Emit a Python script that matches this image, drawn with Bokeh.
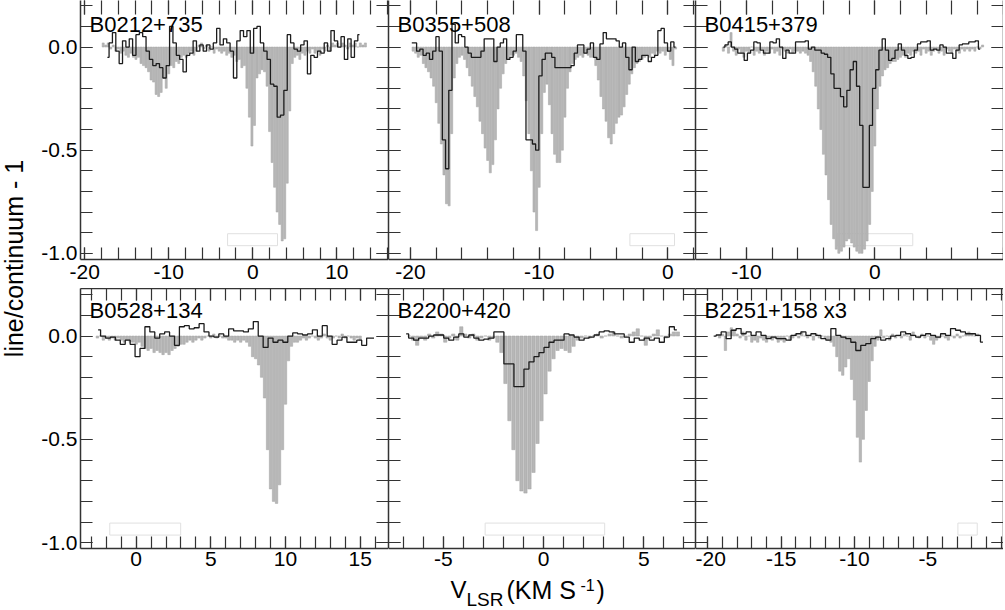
import numpy as np
from bokeh.plotting import figure
from bokeh.models import Range1d, FixedTicker, LinearAxis, Label, CustomJSTickFormatter
from bokeh.layouts import row, column
from bokeh.embed import file_html
from bokeh.resources import INLINE

FONT = "Liberation Sans"
AX = "#333333"

# ---------------- data ----------------
names = ["B0212+735", "B0355+508", "B0415+379", "B0528+134", "B2200+420", "B2251+158 x3"]

# gray histogram (fine channels): start velocity, channel width, values
p1_gray_v0, p1_gray_dv = -17.8, 0.3
p1_gray = [0.02, 0.01, 0.02, -0.01, 0.01, -0.02, -0.01, -0.03, -0.02, -0.04,
           -0.05, -0.03, -0.05, -0.06, -0.05, -0.08, -0.09, -0.10, -0.12, -0.16,
           -0.17, -0.23, -0.24, -0.22, -0.15, -0.20, -0.13, -0.09, -0.10, -0.07,
           -0.08, -0.05, -0.04, -0.05, -0.03, -0.02, -0.04, -0.02, 0.01, 0.02,
           -0.01, 0.01, -0.02, 0.00, -0.03, -0.01, -0.02, -0.03, -0.02, -0.04,
           -0.03, -0.05, -0.04, -0.07, -0.06, -0.10, -0.09, -0.20, -0.34, -0.48,
           -0.38, -0.15, -0.13, -0.11, -0.12, -0.19, -0.41, -0.56, -0.68, -0.80,
           -0.86, -0.94, -0.93, -0.66, -0.31, -0.08, -0.05, -0.04, -0.06, -0.03,
           -0.04, -0.02, -0.03, -0.01, -0.03, -0.02, -0.04, -0.01, -0.02, 0.01,
           -0.02, 0.02, 0.01, 0.02, 0.00, 0.02, 0.01, -0.01, 0.02, 0.01,
           0.02, 0.00, 0.02, 0.01, 0.02]
p1_line_v0, p1_line_dv = -17.3, 0.4
p1_line = [-0.05, 0.02, 0.07, -0.02, -0.08, 0.03, 0.00, 0.04, -0.04, 0.06,
           0.07, 0.05, -0.02, -0.06, -0.09, -0.08, -0.10, -0.15, -0.09, 0.10,
           0.02, -0.04, -0.06, -0.12, -0.04, -0.03, 0.03, -0.02, 0.01, -0.02,
           0.01, -0.01, 0.02, 0.09, 0.01, 0.04, 0.02, -0.02, -0.15, 0.03,
           0.08, 0.05, 0.08, -0.03, 0.09, 0.10, 0.02, -0.02, -0.06, -0.18,
           -0.19, -0.34, -0.33, -0.21, 0.06, 0.02, -0.01, -0.02, 0.01, 0.03,
           -0.13, -0.04, -0.05, -0.02, -0.03, 0.02, -0.02, 0.08, 0.03, 0.00,
           0.05, -0.06, 0.04, -0.05, 0.03, 0.06]

p2_gray_v0, p2_gray_dv = -19.8, 0.2
p2_gray = [-0.02, -0.03, -0.05, -0.04, -0.08, -0.10, -0.12, -0.15, -0.19, -0.27,
           -0.37, -0.47, -0.62, -0.76, -0.77, -0.42, -0.15, -0.08, -0.05, -0.04,
           -0.06, -0.10, -0.14, -0.19, -0.24, -0.29, -0.36, -0.42, -0.49, -0.55,
           -0.61, -0.57, -0.45, -0.30, -0.20, -0.13, -0.08, -0.06, -0.04, -0.04,
           -0.03, -0.05, -0.07, -0.14, -0.26, -0.42, -0.60, -0.80, -0.89, -0.68,
           -0.42, -0.22, -0.18, -0.28, -0.42, -0.52, -0.56, -0.56, -0.50, -0.34,
           -0.20, -0.12, -0.08, -0.06, -0.05, -0.04, -0.05, -0.03, -0.04, -0.05,
           -0.05, -0.09, -0.16, -0.24, -0.30, -0.36, -0.44, -0.47, -0.42, -0.37,
           -0.34, -0.33, -0.29, -0.23, -0.18, -0.13, -0.10, -0.08, -0.07, -0.06,
           -0.05, -0.04, -0.05, -0.03, -0.04, -0.02, -0.03, -0.02, -0.04, -0.02,
           -0.06, -0.09, -0.01]
p2_line_v0, p2_line_dv = -19.9, 0.25
p2_line = [0.02, 0.02, -0.02, -0.01, -0.04, -0.03, -0.06, -0.02, 0.05, -0.02,
           -0.45, -0.59, -0.21, 0.11, 0.02, 0.06, 0.05, 0.00, -0.03, -0.05,
           -0.05, -0.05, -0.02, 0.04, 0.04, 0.04, -0.07, 0.00, 0.02, 0.04,
           -0.06, -0.05, -0.02, 0.06, 0.06, -0.02, -0.45, -0.45, -0.47, -0.50,
           -0.14, -0.06, -0.03, -0.03, -0.05, -0.10, -0.10, -0.10, -0.10, -0.10,
           -0.09, -0.03, 0.01, 0.01, -0.03, -0.01, 0.02, -0.05, -0.06, 0.015,
           0.07, 0.04, 0.04, 0.04, 0.03, 0.00, 0.02, -0.05, -0.11, 0.00,
           -0.07, -0.06, -0.04, -0.04, -0.07, -0.05, -0.04, 0.08, 0.09, 0.02,
           -0.02, 0.025, 0.00]

p3_gray_v0, p3_gray_dv = -11.8, 0.2
p3_gray = [-0.02, 0.01, -0.03, 0.07, -0.02, -0.04, -0.01, -0.03, -0.05, -0.02,
           -0.03, 0.00, -0.04, -0.02, -0.03, -0.01, -0.04, -0.02, -0.03, -0.01,
           -0.03, -0.02, -0.04, -0.01, -0.02, -0.03, -0.01, -0.03, -0.02, -0.02,
           -0.03, -0.02, -0.03, -0.04, -0.07, -0.12, -0.19, -0.30, -0.40, -0.52,
           -0.62, -0.74, -0.86, -0.93, -0.98, -1.00, -0.99, -0.97, -0.94, -0.93,
           -0.95, -0.97, -0.99, -1.00, -1.00, -0.98, -0.94, -0.86, -0.70, -0.48,
           -0.30, -0.19, -0.14, -0.11, -0.10, -0.08, -0.07, -0.07, -0.06, -0.05,
           -0.04, -0.05, -0.03, -0.04, -0.02, -0.03, -0.02, -0.04, -0.01, -0.03,
           -0.02, -0.04, -0.02, -0.01, -0.03, -0.02, -0.04, -0.01, -0.02, -0.03,
           -0.01, -0.02, -0.03, -0.01, -0.02, -0.01, -0.02, -0.01, -0.02, 0.00,
           -0.01, 0.01]
p3_line_v0, p3_line_dv = -11.8, 0.25
p3_line = [0.00, 0.01, 0.025, 0.00, -0.01, -0.03, -0.03, -0.065, -0.03, -0.015,
           0.025, 0.02, -0.015, -0.03, -0.03, 0.025, 0.02, 0.04, 0.00, -0.055,
           -0.015, -0.03, -0.03, 0.025, 0.025, 0.025, 0.03, -0.01, 0.00, -0.015,
           -0.015, -0.03, -0.035, -0.05, -0.13, -0.20, -0.20, -0.24, -0.29, -0.21,
           -0.11, -0.07, -0.19, -0.38, -0.68, -0.68, -0.38, -0.20, -0.11, -0.015,
           0.04, -0.015, -0.065, -0.055, -0.015, 0.015, -0.015, -0.04, -0.055, -0.05,
           -0.015, 0.015, 0.025, 0.025, 0.03, -0.015, -0.01, -0.015, 0.01, 0.00,
           -0.03, -0.03, -0.055, -0.015, 0.01, 0.015, 0.015, 0.025, 0.025, 0.03,
           -0.01]

p4_gray_v0, p4_gray_dv = -2.6, 0.2
p4_gray = [-0.01, 0.00, -0.02, -0.01, -0.02, -0.01, -0.02, -0.01, -0.02, -0.03,
           -0.02, -0.03, -0.03, -0.04, -0.03, -0.05, -0.06, -0.07, -0.06, -0.08,
           -0.07, -0.08, -0.09, -0.08, -0.09, -0.07, -0.06, -0.05, -0.04, -0.04,
           -0.03, -0.02, -0.03, -0.02, -0.01, -0.02, -0.01, 0.00, -0.01, 0.01,
           -0.01, 0.00, -0.01, -0.01, -0.02, -0.02, -0.03, -0.02, -0.03, -0.02,
           -0.03, -0.05, -0.10, -0.11, -0.14, -0.20, -0.30, -0.55, -0.74, -0.80,
           -0.81, -0.72, -0.55, -0.33, -0.12, -0.05, -0.03, -0.03, -0.02, -0.01,
           -0.02, -0.01, 0.00, -0.01, -0.02, -0.01, 0.01, -0.01, -0.02, -0.01,
           0.00, -0.01, 0.01, -0.01, 0.00, -0.01, -0.02, -0.01, -0.02]
p4_line_v0, p4_line_dv = -2.55, 0.33
p4_line = [0.03, 0.00, -0.01, -0.005, -0.02, -0.04, -0.02, -0.04, -0.10, -0.06,
           0.045, 0.02, -0.01, 0.01, 0.02, 0.00, -0.045, 0.045, 0.05, 0.035,
           0.04, 0.06, 0.02, 0.00, -0.005, 0.01, 0.00, 0.035, 0.025, 0.025,
           0.02, 0.035, 0.07, 0.00, -0.055, -0.01, -0.03, -0.02, -0.03, 0.00,
           0.015, 0.01, 0.005, 0.01, 0.03, 0.00, 0.05, 0.00, -0.04, -0.02,
           -0.005, -0.03, -0.03, -0.02, -0.045, -0.01, -0.01]

p5_gray_v0, p5_gray_dv = -6.7, 0.2
p5_gray = [0.00, -0.02, -0.045, -0.01, -0.02, 0.01, -0.01, 0.02, 0.01, -0.03,
           -0.01, 0.01, -0.02, 0.045, 0.01, -0.01, 0.01, -0.02, -0.01, 0.00,
           -0.02, -0.01, -0.03, -0.08, -0.23, -0.41, -0.55, -0.70, -0.75, -0.76,
           -0.74, -0.66, -0.52, -0.41, -0.28, -0.17, -0.11, -0.07, -0.06, -0.07,
           -0.08, -0.05, -0.02, -0.01, 0.00, -0.01, 0.00, 0.01, -0.01, 0.00,
           0.01, 0.02, 0.00, -0.01, 0.00, 0.01, 0.02, 0.035, 0.00, -0.045,
           -0.01, 0.01, 0.03, 0.00, -0.01, 0.01, 0.02, 0.02]
p5_line_v0, p5_line_dv = -6.85, 0.25
p5_line = [0.01, -0.01, -0.02, -0.01, -0.01, 0.00, 0.005, 0.005, -0.01, -0.02,
           -0.005, 0.01, -0.005, 0.005, -0.01, -0.02, -0.015, -0.01, 0.02, 0.02,
           -0.135, -0.135, -0.245, -0.245, -0.16, -0.125, -0.10, -0.08, -0.055, -0.03,
           -0.02, -0.02, 0.01, 0.005, -0.005, -0.02, -0.01, -0.005, 0.005, 0.02,
           0.025, 0.02, 0.01, 0.01, -0.005, -0.03, -0.01, -0.02, -0.01, -0.02,
           -0.01, -0.03, -0.005, 0.045, 0.03]

p6_gray_v0, p6_gray_dv = -19.2, 0.2
p6_gray = [-0.01, 0.01, -0.07, 0.02, 0.04, 0.03, 0.01, -0.01, 0.02, -0.02,
           0.00, -0.03, -0.02, -0.03, -0.01, -0.02, -0.03, -0.01, -0.02, -0.01,
           -0.03, -0.02, -0.03, 0.00, -0.02, -0.01, 0.01, -0.01, 0.02, 0.00,
           -0.01, 0.00, -0.02, 0.01, -0.01, 0.00, -0.01, -0.02, -0.03, -0.05,
           -0.10, -0.17, -0.19, -0.15, -0.11, -0.21, -0.31, -0.49, -0.61, -0.50,
           -0.36, -0.22, -0.12, -0.05, -0.02, 0.03, -0.01, 0.00, -0.02, 0.01,
           -0.01, 0.00, -0.01, 0.01, 0.00, -0.02, 0.02, 0.00, -0.01, 0.01,
           -0.01, 0.00, -0.02, -0.04, -0.02, -0.01, 0.00, -0.01, -0.02, 0.00,
           -0.01, 0.01, -0.01, 0.00, 0.01, 0.02, 0.01, 0.00, 0.01]
p6_line_v0, p6_line_dv = -19.6, 0.34
p6_line = [0.00, 0.005, 0.02, -0.013, 0.028, 0.036, 0.011, 0.02, 0.003, 0.02,
           0.003, -0.013, -0.005, -0.013, -0.013, -0.02, 0.003, 0.011, 0.02, 0.003,
           0.011, 0.003, -0.013, -0.02, 0.036, 0.003, -0.005, -0.013, -0.03, -0.07,
           -0.045, -0.037, -0.013, -0.005, -0.02, -0.013, 0.00, 0.003, 0.02, 0.011,
           0.003, -0.005, 0.003, 0.011, 0.003, -0.005, 0.011, 0.003, 0.036, 0.028,
           0.02, 0.011, 0.011, 0.003, -0.029]

# faint reference boxes near the bottom of each panel
box_left = [-3.0, -2.95, -2.93, -1.77, -2.91, -2.95]
box_right = [2.94, 0.52, 2.96, 2.98, 3.05, -1.63]
box_bottom, box_top = -0.963, -0.905

# tick labels per panel
x_label_ticks = [[-20, -10, 0, 10], [-20, -10, 0], [-10, 0],
                 [0, 5, 10, 15], [-5, 0, 5], [-20, -15, -10, -5]]
y_label_ticks = [-1.0, -0.5, 0.0]

# ---------------- layout / style ----------------
x_ranges = [(-20.5, 16.15), (-21.71, 2.15), (-13.97, 10.03),
            (-3.73, 16.9), (-7.73, 7.58), (-20.84, 0.16)]
minor_spec = [(-20, 16, 2), (-20, 2, 2), (-12, 10, 2),
              (-3, 16, 1), (-7, 7, 1), (-20, 0, 1)]
Y_TOP = (-1.03, 0.2256)
Y_BOT = (-1.028, 0.23)
TITLE_W = 28
fig_w = [360, 307, 308]
frame_w = [308, 307, 308]
left_border = [52, 0, 0]
row_h = [288, 287]
bottom_border = [29, 27]
x_standoff = [5, 3]
name_y = [0.109, 0.124]
TICK_FONT = "21px"

series = [
    (p1_gray_v0, p1_gray_dv, p1_gray, p1_line_v0, p1_line_dv, p1_line),
    (p2_gray_v0, p2_gray_dv, p2_gray, p2_line_v0, p2_line_dv, p2_line),
    (p3_gray_v0, p3_gray_dv, p3_gray, p3_line_v0, p3_line_dv, p3_line),
    (p4_gray_v0, p4_gray_dv, p4_gray, p4_line_v0, p4_line_dv, p4_line),
    (p5_gray_v0, p5_gray_dv, p5_gray, p5_line_v0, p5_line_dv, p5_line),
    (p6_gray_v0, p6_gray_dv, p6_gray, p6_line_v0, p6_line_dv, p6_line),
]


def style_axis(ax, ticker, labeled, fmt=None, tick_in=12, line=True, standoff=5):
    ax.ticker = ticker
    ax.axis_line_color = AX if line else None
    ax.axis_line_width = 1.5
    ax.major_tick_in = tick_in
    ax.major_tick_out = 0
    ax.minor_tick_in = tick_in
    ax.minor_tick_out = 0
    ax.major_tick_line_color = AX
    ax.minor_tick_line_color = AX
    ax.major_tick_line_width = 1.2
    ax.minor_tick_line_width = 1.2
    if labeled:
        ax.formatter = CustomJSTickFormatter(code=fmt)
        ax.major_label_text_font = FONT
        ax.major_label_text_font_size = TICK_FONT
        ax.major_label_text_color = "black"
        ax.major_label_standoff = standoff
    else:
        ax.formatter = CustomJSTickFormatter(code="return '';")
        ax.major_label_text_font_size = "0px"
        ax.major_label_standoff = 0


def make_panel(i):
    r, c = divmod(i, 3)
    yr = Y_TOP if r == 0 else Y_BOT
    xr = x_ranges[i]
    p = figure(width=fig_w[c], height=row_h[r],
               x_range=Range1d(*xr), y_range=Range1d(*yr),
               output_backend="svg", toolbar_location=None,
               min_border_left=left_border[c], min_border_right=0,
               min_border_top=0, min_border_bottom=bottom_border[r],
               outline_line_color=None, background_fill_color="white",
               border_fill_color="white")
    p.grid.visible = False

    a, b, s = minor_spec[i]
    xt = FixedTicker(ticks=x_label_ticks[i], minor_ticks=list(np.arange(a, b + 0.001, s)))
    yt = FixedTicker(ticks=y_label_ticks,
                     minor_ticks=[round(-1.0 + 0.1 * k, 1) for k in range(13)])

    style_axis(p.xaxis[0], xt, True, "return tick.toFixed(0);", standoff=x_standoff[r])
    style_axis(p.yaxis[0], yt, c == 0, "return tick.toFixed(1);", standoff=3)
    top = LinearAxis()
    style_axis(top, xt, False, tick_in=(14 if r == 0 else 12), line=(r == 1))
    p.add_layout(top, "above")
    right = LinearAxis()
    style_axis(right, yt, False)
    p.add_layout(right, "right")

    gv0, gdv, g, lv0, ldv, l = series[i]
    gx = gv0 + gdv * np.arange(len(g))
    lx = lv0 + ldv * np.arange(len(l))

    p.quad(left=[box_left[i]], right=[box_right[i]], bottom=[box_bottom], top=[box_top],
           fill_color=None, line_color="#e0e0e0", line_width=1)
    p.vbar(x=gx, width=gdv * 0.82, top=0, bottom=g,
           fill_color="#b7b7b7", line_color="#a2a2a2", line_width=0.5)
    p.step(x=lx, y=l, mode="center", line_color="#1c1c1c", line_width=1.3)

    ppu = frame_w[c] / (xr[1] - xr[0])
    p.add_layout(Label(x=xr[0] + 9 / ppu, y=name_y[r], text=names[i],
                       text_font=FONT, text_font_size="22px", text_color="black",
                       text_baseline="alphabetic"))
    return p


panels = [make_panel(i) for i in range(6)]

# x-axis title strip (data coordinates == page pixels)
top_y = row_h[0] + row_h[1]
XT_H = 610 - top_y
xt_fig = figure(width=1003 - TITLE_W, height=XT_H,
                x_range=Range1d(TITLE_W, 1003), y_range=Range1d(top_y + XT_H, top_y),
                output_backend="svg", toolbar_location=None, min_border=0,
                x_axis_location=None, y_axis_location=None, outline_line_color=None)
xt_fig.grid.visible = False
for txt, px, py, size in [("V", 450, 589, "24px"), ("LSR", 466, 599, "19px"),
                          ("(KM S", 506, 589, "25px"), ("-1", 580, 584, "16px"),
                          (")", 596, 589, "25px")]:
    xt_fig.add_layout(Label(x=px, y=py, text=txt, text_font=FONT, text_font_size=size,
                            text_color="black", text_baseline="alphabetic"))

# y-axis title strip
total_h = top_y + XT_H
yt_fig = figure(width=TITLE_W, height=total_h, x_range=Range1d(0, TITLE_W),
                y_range=Range1d(total_h, 0),
                output_backend="svg", toolbar_location=None, min_border=0,
                x_axis_location=None, y_axis_location=None, outline_line_color=None)
yt_fig.grid.visible = False
yt_fig.add_layout(Label(x=13, y=258, text="line/continuum - 1", angle=np.pi / 2,
                        text_font=FONT, text_font_size="25px", text_color="black",
                        text_align="center", text_baseline="middle"))

grid = column(row(*panels[:3], spacing=0), row(*panels[3:], spacing=0), xt_fig, spacing=0)
layout = row(yt_fig, grid, spacing=0)

open("out.html", "w").write(file_html(layout, INLINE))
